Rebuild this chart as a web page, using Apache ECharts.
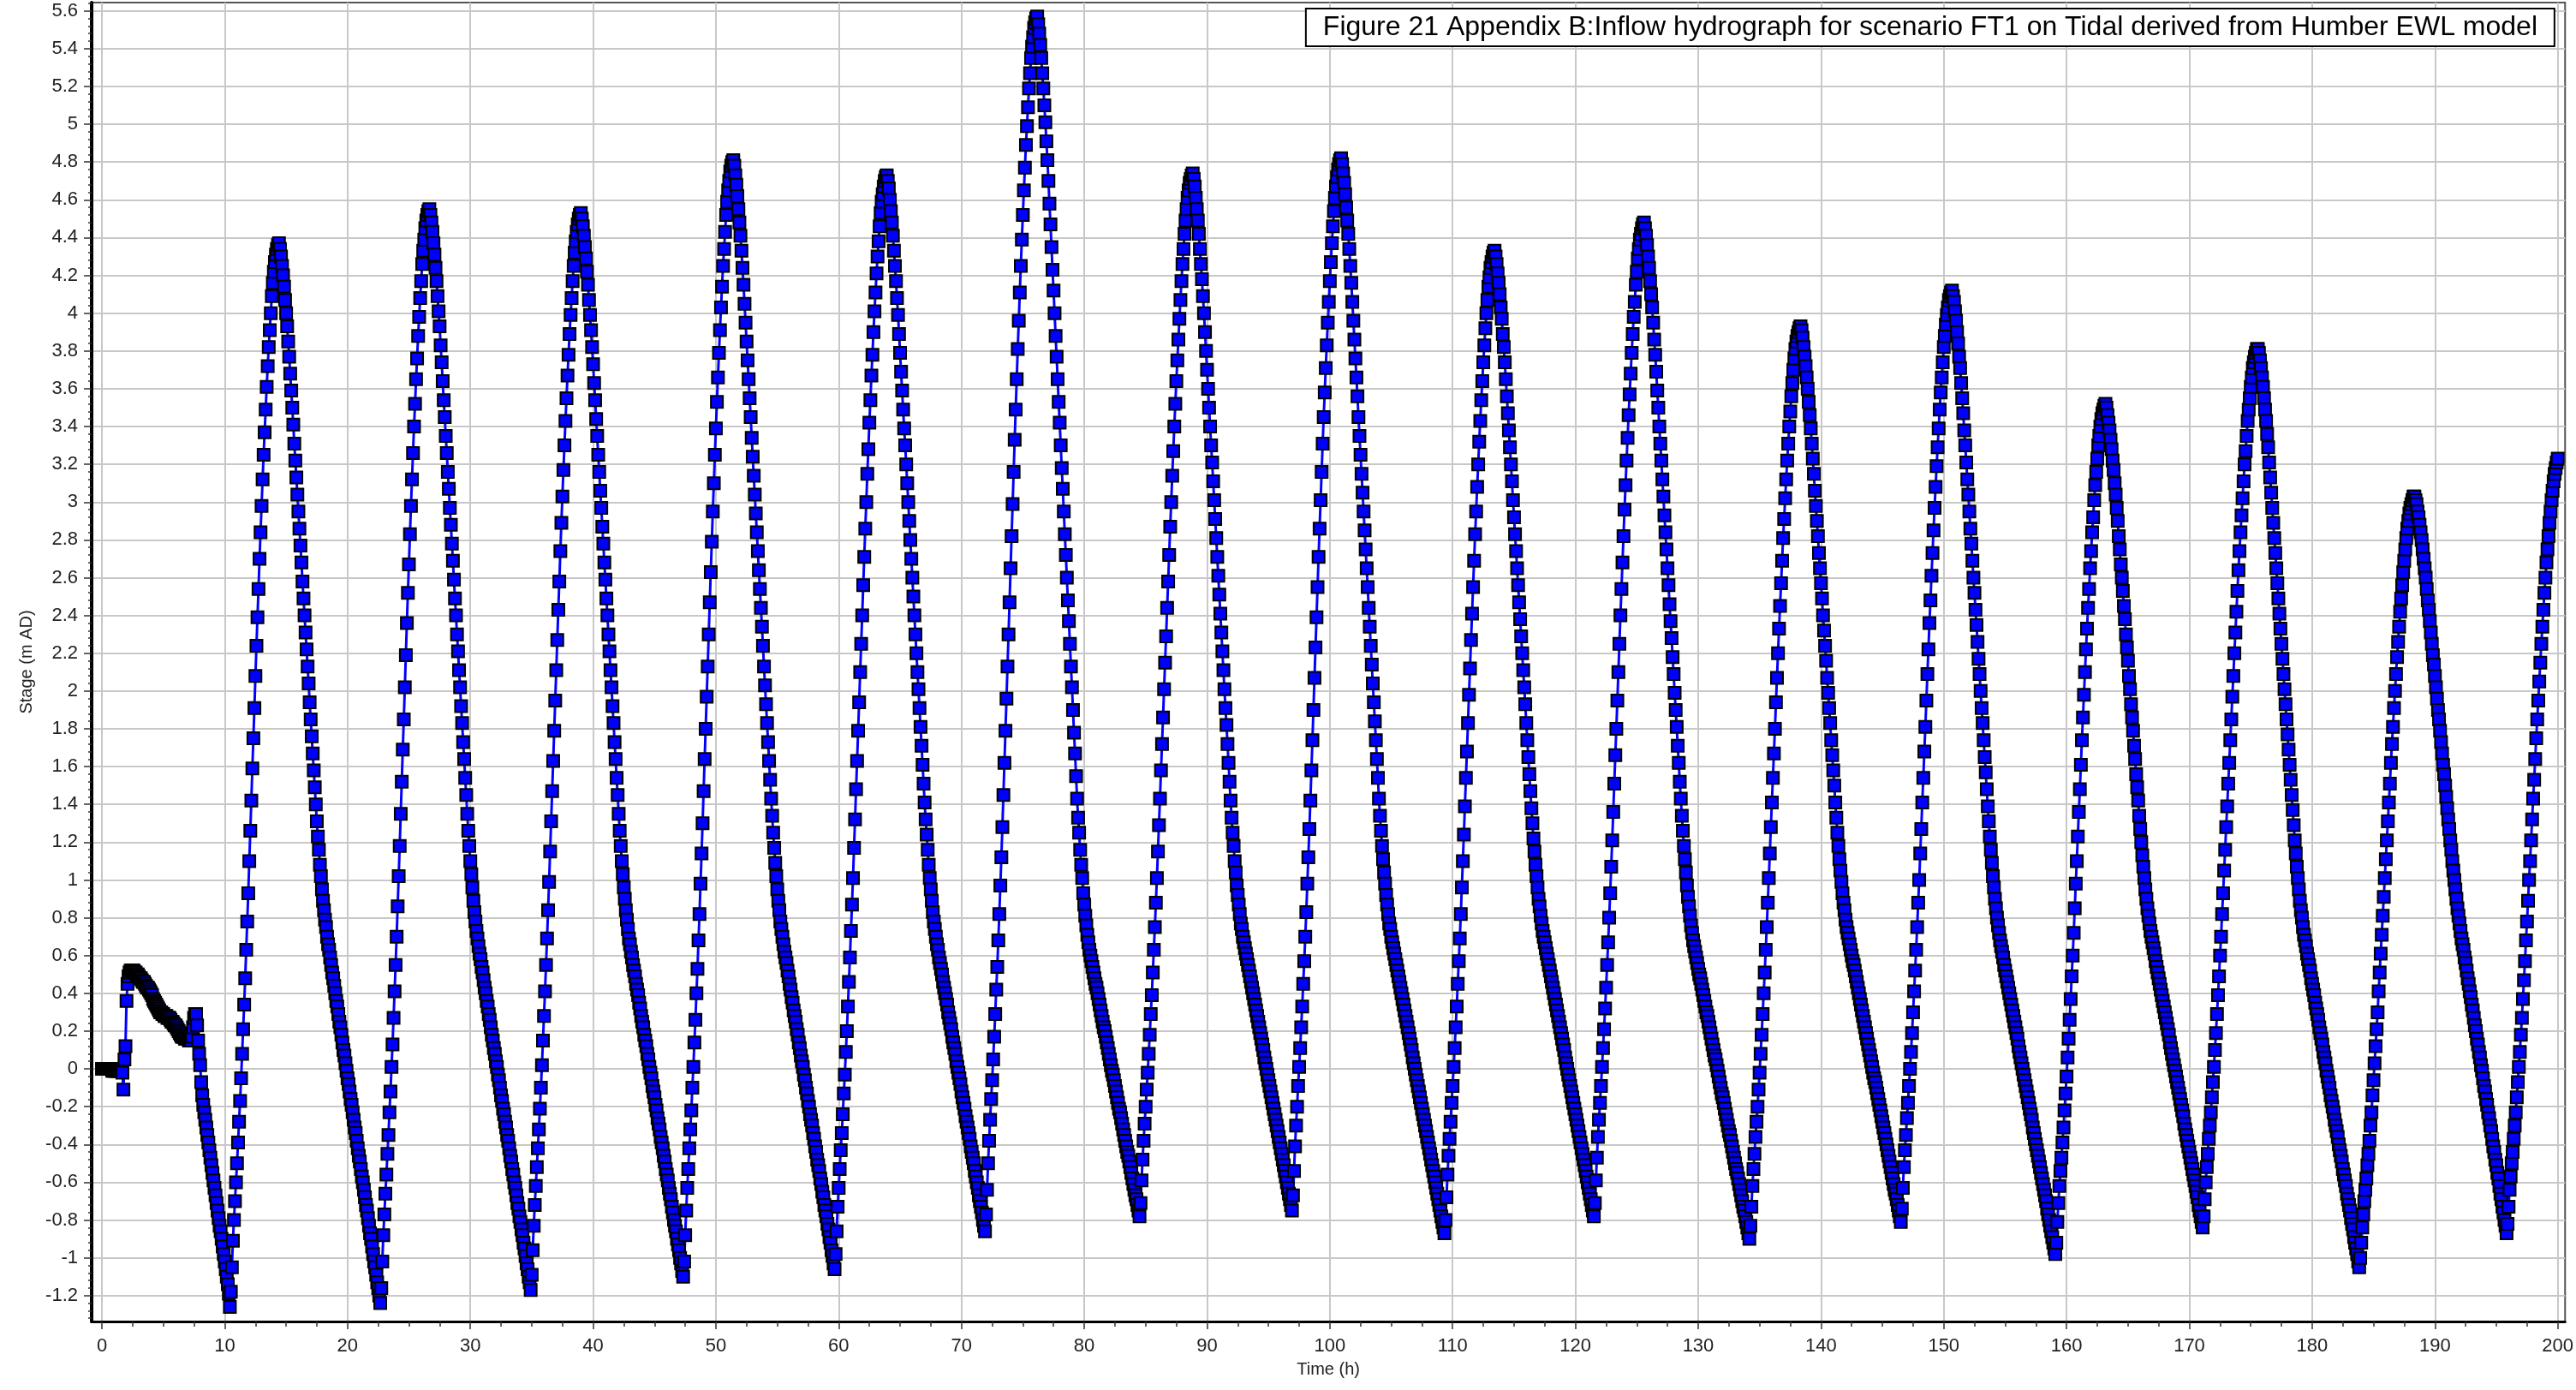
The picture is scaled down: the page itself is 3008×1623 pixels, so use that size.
<!DOCTYPE html>
<html><head><meta charset="utf-8">
<script src="https://cdn.jsdelivr.net/npm/echarts@6/dist/echarts.min.js"></script>
<style>html,body{margin:0;padding:0;background:#fff}#chart{width:3008px;height:1623px}</style>
</head><body><div id="chart"></div>
<script>
const chartTitle = 'Figure 21 Appendix B:Inflow hydrograph for scenario FT1 on Tidal derived from Humber EWL model';
const xAxisTitle = 'Time (h)';
const yAxisTitle = 'Stage (m AD)';
const seriesName = 'Tidal';
const startHour = 0;
const stepHours = 5 / 60;
const xTickValues = [0,10,20,30,40,50,60,70,80,90,100,110,120,130,140,150,160,170,180,190,200];
const yTickValues = [-1.2,-1,-0.8,-0.6,-0.4,-0.2,0,0.2,0.4,0.6,0.8,1,1.2,1.4,1.6,1.8,2,2.2,2.4,2.6,2.8,3,3.2,3.4,3.6,3.8,4,4.2,4.4,4.6,4.8,5,5.2,5.4,5.6];

// Stage (m AD) at 5-minute steps, split at each low water
const tide00 = [0,0,0,0,0,0,0,0,0,0,-0.01,-0.01,-0.01,-0.01,-0.01,-0.01,-0.01,-0.01,-0.01,-0.01,
-0.02,-0.11,0.05,0.12,0.36,0.45,0.49,0.51,0.52,0.52,0.52,0.52,0.51,0.51,0.50,0.50,0.49,0.48,0.48,0.47,
0.46,0.46,0.45,0.44,0.43,0.43,0.42,0.41,0.40,0.39,0.37,0.36,0.35,0.34,0.33,0.32,0.31,0.30,0.30,0.29,
0.29,0.28,0.28,0.28,0.27,0.27,0.27,0.26,0.25,0.25,0.24,0.23,0.23,0.22,0.21,0.20,0.19,0.18,0.17,0.17,
0.17,0.16,0.16,0.16,0.16,0.15,0.15,0.15,0.17,0.22,0.27,0.29,0.29,0.23,0.15,0.08,0.02,-0.07,-0.14,-0.19,
-0.23,-0.27,-0.31,-0.35,-0.39,-0.43,-0.47,-0.51,-0.55,-0.59,-0.63,-0.67,-0.71,-0.75,-0.79,-0.83,-0.86,-0.90,-0.94,-0.98,
-1.02,-1.06,-1.10,-1.14,-1.19,-1.26];
const tide01 = [-1.18,-1.05,-0.91,-0.80,-0.70,-0.60,-0.50,-0.39,-0.28,-0.17,-0.05,0.08,0.21,0.34,0.48,0.63,0.78,0.93,1.10,1.26,
1.42,1.59,1.75,1.91,2.08,2.24,2.39,2.54,2.70,2.84,2.98,3.12,3.25,3.37,3.49,3.61,3.72,3.82,3.91,4.00,
4.09,4.16,4.22,4.27,4.31,4.34,4.36,4.37,
4.34,4.30,4.25,4.20,4.14,4.07,4.00,3.93,3.85,3.77,3.68,
3.59,3.50,3.41,3.31,3.22,3.13,3.04,2.95,2.86,2.77,2.68,2.58,2.49,2.40,2.31,2.22,2.13,2.04,1.94,1.85,
1.76,1.67,1.58,1.49,1.40,1.31,1.23,1.16,1.08,1.02,0.95,0.89,
0.84,0.79,0.75,0.70,0.66,0.63,0.59,0.55,0.51,0.48,0.44,0.40,0.36,0.33,0.29,0.25,0.22,0.18,0.14,0.10,
0.07,0.03,-0.01,-0.05,-0.08,-0.12,-0.16,-0.19,-0.23,-0.27,-0.31,-0.34,-0.38,-0.42,-0.46,-0.49,-0.53,-0.57,-0.60,-0.64,
-0.68,-0.72,-0.75,-0.79,-0.83,-0.87,-0.90,-0.94,-0.98,-1.02,-1.05,-1.09,-1.13,-1.16,-1.20,-1.24];
const tide02 = [-1.16,-1.02,-0.88,-0.77,-0.66,-0.56,-0.45,-0.35,-0.23,-0.12,0.01,0.13,0.27,0.41,0.55,0.70,0.86,1.02,1.18,1.35,
1.52,1.69,1.85,2.02,2.19,2.36,2.52,2.67,2.83,2.98,3.12,3.26,3.40,3.52,3.65,3.76,3.88,3.98,4.08,4.17,
4.26,4.33,4.39,4.45,4.49,4.52,4.54,4.55,
4.52,4.48,4.43,4.37,4.31,4.24,4.17,4.09,4.01,3.93,3.83,
3.74,3.64,3.54,3.45,3.35,3.26,3.16,3.07,2.97,2.88,2.78,2.69,2.59,2.49,2.40,2.30,2.21,2.11,2.02,1.92,
1.83,1.73,1.64,1.54,1.45,1.35,1.26,1.18,1.10,1.03,0.96,0.89,0.83,
0.78,0.73,0.69,0.65,0.61,0.58,0.54,0.51,0.47,0.43,0.40,0.36,0.33,0.29,0.26,0.22,0.18,0.15,0.11,0.08,
0.04,0.01,-0.03,-0.06,-0.10,-0.14,-0.17,-0.21,-0.24,-0.28,-0.31,-0.35,-0.38,-0.42,-0.46,-0.49,-0.53,-0.56,-0.60,-0.63,
-0.67,-0.71,-0.74,-0.78,-0.81,-0.85,-0.88,-0.92,-0.95,-0.99,-1.03,-1.06,-1.10,-1.13,-1.17];
const tide03 = [-1.09,-0.96,-0.83,-0.72,-0.62,-0.52,-0.42,-0.32,-0.21,-0.10,0.02,0.15,0.28,0.41,0.55,0.69,0.84,0.99,1.15,1.31,
1.47,1.63,1.79,1.95,2.11,2.27,2.43,2.58,2.74,2.89,3.03,3.17,3.30,3.43,3.55,3.67,3.78,3.89,3.99,4.08,
4.17,4.25,4.32,4.38,4.43,4.47,4.50,4.52,4.53,
4.50,4.46,4.41,4.35,4.29,4.22,4.15,4.07,3.99,3.91,3.82,
3.73,3.63,3.54,3.44,3.35,3.25,3.16,3.06,2.97,2.87,2.78,2.68,2.59,2.49,2.40,2.30,2.21,2.11,2.02,1.92,
1.83,1.73,1.64,1.54,1.45,1.35,1.26,1.18,1.10,1.03,0.96,0.90,0.84,
0.79,0.74,0.69,0.66,0.62,0.59,0.55,0.52,0.49,0.45,0.42,0.39,0.35,0.32,0.28,0.25,0.22,0.18,0.15,0.12,
0.08,0.05,0.01,-0.02,-0.05,-0.09,-0.12,-0.15,-0.19,-0.22,-0.26,-0.29,-0.32,-0.36,-0.39,-0.42,-0.46,-0.49,-0.53,-0.56,
-0.59,-0.63,-0.66,-0.69,-0.73,-0.76,-0.80,-0.83,-0.86,-0.90,-0.93,-0.96,-1.00,-1.03,-1.07,-1.10];
const tide04 = [-1.02,-0.88,-0.75,-0.63,-0.53,-0.42,-0.32,-0.22,-0.10,0.01,0.14,0.26,0.40,0.53,0.68,0.82,0.98,1.14,1.30,1.47,
1.64,1.80,1.97,2.13,2.30,2.47,2.63,2.79,2.95,3.10,3.25,3.39,3.53,3.66,3.79,3.91,4.03,4.14,4.25,4.34,
4.43,4.52,4.59,4.65,4.70,4.75,4.78,4.80,4.81,
4.78,4.73,4.68,4.62,4.55,4.48,4.41,4.33,4.24,4.15,4.05,
3.95,3.85,3.75,3.65,3.55,3.45,3.34,3.24,3.14,3.04,2.94,2.84,2.74,2.64,2.54,2.44,2.34,2.24,2.13,2.03,
1.93,1.83,1.73,1.63,1.53,1.43,1.34,1.25,1.17,1.09,1.02,0.95,0.89,
0.84,0.78,0.74,0.70,0.66,0.62,0.59,0.56,0.52,0.49,0.45,0.42,0.38,0.35,0.31,0.28,0.25,0.21,0.18,0.14,
0.11,0.07,0.04,0.01,-0.03,-0.06,-0.10,-0.13,-0.17,-0.20,-0.24,-0.27,-0.30,-0.34,-0.37,-0.41,-0.44,-0.48,-0.51,-0.54,
-0.58,-0.61,-0.65,-0.68,-0.72,-0.75,-0.78,-0.82,-0.85,-0.89,-0.92,-0.96,-0.99,-1.03,-1.06];
const tide05 = [-0.98,-0.86,-0.73,-0.63,-0.53,-0.43,-0.34,-0.24,-0.13,-0.03,0.09,0.20,0.33,0.46,0.59,0.73,0.87,1.01,1.17,1.32,
1.48,1.63,1.79,1.94,2.10,2.25,2.40,2.56,2.71,2.86,3.00,3.15,3.28,3.42,3.54,3.67,3.78,3.90,4.01,4.11,
4.21,4.30,4.38,4.46,4.53,4.59,4.63,4.67,4.70,4.72,4.73,
4.70,4.66,4.60,4.54,4.48,4.41,4.33,4.25,4.17,4.08,3.99,
3.89,3.79,3.69,3.59,3.49,3.39,3.30,3.20,3.10,3.00,2.90,2.80,2.70,2.60,2.50,2.40,2.30,2.20,2.10,2.01,
1.91,1.81,1.71,1.61,1.51,1.41,1.32,1.24,1.16,1.08,1.01,0.95,0.89,
0.83,0.78,0.74,0.70,0.66,0.63,0.59,0.56,0.53,0.50,0.46,0.43,0.40,0.37,0.34,0.30,0.27,0.24,0.21,0.17,
0.14,0.11,0.08,0.04,0.01,-0.02,-0.05,-0.08,-0.12,-0.15,-0.18,-0.21,-0.25,-0.28,-0.31,-0.34,-0.37,-0.41,-0.44,-0.47,
-0.50,-0.54,-0.57,-0.60,-0.63,-0.67,-0.70,-0.73,-0.76,-0.80,-0.83,-0.86];
const tide06 = [-0.77,-0.64,-0.50,-0.38,-0.27,-0.16,-0.06,0.05,0.17,0.29,0.42,0.54,0.68,0.82,0.97,1.12,1.28,1.45,1.62,1.79,
1.96,2.13,2.30,2.47,2.65,2.82,2.99,3.16,3.33,3.49,3.65,3.81,3.96,4.11,4.25,4.39,4.52,4.65,4.77,4.89,
4.99,5.09,5.19,5.27,5.35,5.41,5.46,5.51,5.54,5.56,5.57,
5.53,5.48,5.42,5.35,5.27,5.19,5.10,5.01,4.91,4.81,4.70,
4.58,4.47,4.35,4.23,4.12,4.00,3.88,3.77,3.65,3.53,3.42,3.30,3.18,3.07,2.95,2.83,2.72,2.60,2.48,2.37,
2.25,2.13,2.02,1.90,1.78,1.67,1.55,1.43,1.33,1.25,1.16,1.08,1.01,0.93,0.87,
0.81,0.76,0.71,0.67,0.63,0.60,0.57,0.54,0.51,0.48,0.45,0.43,0.40,0.37,0.34,0.31,0.28,0.25,0.22,0.20,
0.17,0.14,0.11,0.08,0.05,0.02,-0.01,-0.03,-0.06,-0.09,-0.12,-0.15,-0.18,-0.21,-0.23,-0.26,-0.29,-0.32,-0.35,-0.38,
-0.41,-0.44,-0.46,-0.49,-0.52,-0.55,-0.58,-0.61,-0.64,-0.67,-0.69,-0.72,-0.75,-0.78];
const tide07 = [-0.71,-0.59,-0.48,-0.38,-0.29,-0.20,-0.11,-0.02,0.08,0.18,0.29,0.39,0.51,0.63,0.75,0.88,1.01,1.15,1.29,1.43,
1.58,1.72,1.86,2.01,2.15,2.29,2.44,2.58,2.72,2.87,3.00,3.14,3.27,3.40,3.52,3.64,3.75,3.86,3.97,4.07,
4.17,4.26,4.34,4.42,4.49,4.55,4.61,4.65,4.69,4.71,4.73,4.74,
4.71,4.67,4.61,4.55,4.49,4.42,4.34,4.26,4.18,4.09,4.00,
3.90,3.80,3.70,3.60,3.50,3.40,3.30,3.21,3.11,3.01,2.91,2.81,2.71,2.61,2.51,2.41,2.31,2.21,2.11,2.01,
1.91,1.82,1.72,1.62,1.52,1.42,1.33,1.25,1.18,1.10,1.04,0.97,0.92,
0.87,0.82,0.77,0.74,0.70,0.67,0.64,0.61,0.58,0.55,0.52,0.49,0.46,0.43,0.40,0.37,0.34,0.31,0.28,0.25,
0.22,0.19,0.16,0.13,0.10,0.06,0.03,0.00,-0.03,-0.06,-0.09,-0.12,-0.15,-0.18,-0.21,-0.24,-0.27,-0.30,-0.33,-0.36,
-0.39,-0.42,-0.45,-0.48,-0.51,-0.54,-0.57,-0.60,-0.63,-0.66,-0.69,-0.72,-0.75];
const tide08 = [-0.67,-0.54,-0.41,-0.30,-0.20,-0.09,0.01,0.11,0.22,0.33,0.45,0.57,0.70,0.83,0.98,1.12,1.27,1.42,1.58,1.74,
1.90,2.07,2.23,2.39,2.55,2.71,2.86,3.01,3.16,3.31,3.45,3.58,3.71,3.83,3.95,4.06,4.17,4.27,4.37,4.46,
4.54,4.61,4.67,4.72,4.76,4.79,4.81,4.82,
4.79,4.74,4.69,4.63,4.56,4.49,4.42,4.34,4.25,4.16,4.06,
3.96,3.86,3.76,3.66,3.56,3.45,3.35,3.25,3.15,3.05,2.95,2.85,2.75,2.65,2.55,2.44,2.34,2.24,2.14,2.04,
1.94,1.84,1.74,1.64,1.54,1.43,1.34,1.26,1.18,1.11,1.04,0.98,0.92,
0.87,0.82,0.77,0.74,0.70,0.67,0.64,0.61,0.58,0.55,0.52,0.49,0.46,0.43,0.40,0.37,0.34,0.31,0.28,0.25,
0.22,0.19,0.16,0.13,0.10,0.06,0.03,0.00,-0.03,-0.06,-0.09,-0.12,-0.15,-0.18,-0.21,-0.24,-0.27,-0.30,-0.33,-0.36,
-0.39,-0.42,-0.45,-0.48,-0.51,-0.54,-0.57,-0.60,-0.63,-0.66,-0.69,-0.72,-0.75,-0.78,-0.81,-0.84,-0.87];
const tide09 = [-0.80,-0.68,-0.56,-0.46,-0.37,-0.28,-0.18,-0.09,0.01,0.11,0.22,0.33,0.45,0.57,0.69,0.82,0.96,1.10,1.24,1.39,
1.54,1.68,1.83,1.98,2.12,2.27,2.41,2.55,2.69,2.83,2.95,3.08,3.20,3.32,3.43,3.54,3.64,3.74,3.83,3.92,
4.00,4.07,4.14,4.19,4.24,4.27,4.30,4.32,4.33,
4.30,4.26,4.21,4.16,4.10,4.03,3.97,3.89,3.82,3.74,3.65,
3.56,3.47,3.38,3.29,3.20,3.11,3.01,2.92,2.83,2.74,2.65,2.56,2.47,2.38,2.29,2.20,2.11,2.02,1.93,1.83,
1.74,1.65,1.56,1.47,1.38,1.30,1.22,1.15,1.08,1.02,0.96,0.90,
0.86,0.81,0.77,0.73,0.70,0.67,0.64,0.61,0.58,0.55,0.52,0.49,0.46,0.43,0.40,0.37,0.34,0.31,0.28,0.25,
0.22,0.19,0.16,0.13,0.10,0.06,0.03,0.00,-0.03,-0.06,-0.09,-0.12,-0.15,-0.18,-0.21,-0.24,-0.27,-0.30,-0.33,-0.36,
-0.39,-0.42,-0.45,-0.48,-0.51,-0.54,-0.57,-0.60,-0.63,-0.66,-0.69,-0.72,-0.75,-0.78];
const tide10 = [-0.71,-0.59,-0.47,-0.36,-0.27,-0.18,-0.09,0.01,0.11,0.21,0.32,0.43,0.55,0.67,0.80,0.93,1.07,1.21,1.36,1.51,
1.66,1.80,1.95,2.10,2.25,2.40,2.54,2.68,2.82,2.96,3.09,3.22,3.34,3.46,3.57,3.68,3.79,3.89,3.98,4.06,
4.15,4.22,4.29,4.34,4.39,4.42,4.45,4.47,4.48,
4.45,4.41,4.36,4.30,4.24,4.17,4.10,4.03,3.95,3.86,3.78,
3.69,3.59,3.50,3.40,3.31,3.22,3.12,3.03,2.93,2.84,2.75,2.65,2.56,2.46,2.37,2.28,2.18,2.09,1.99,1.90,
1.81,1.71,1.62,1.52,1.43,1.34,1.26,1.18,1.11,1.04,0.97,0.91,0.86,
0.81,0.76,0.72,0.68,0.65,0.62,0.59,0.56,0.53,0.50,0.48,0.45,0.42,0.39,0.36,0.33,0.30,0.28,0.25,0.22,
0.19,0.16,0.13,0.10,0.07,0.05,0.02,-0.01,-0.04,-0.07,-0.10,-0.13,-0.15,-0.18,-0.21,-0.24,-0.27,-0.30,-0.33,-0.35,
-0.38,-0.41,-0.44,-0.47,-0.50,-0.53,-0.55,-0.58,-0.61,-0.64,-0.67,-0.70,-0.73,-0.75,-0.78,-0.81,-0.84,-0.87,-0.90];
const tide11 = [-0.83,-0.73,-0.62,-0.53,-0.45,-0.36,-0.28,-0.20,-0.11,-0.02,0.08,0.18,0.29,0.40,0.51,0.63,0.75,0.88,1.01,1.14,
1.28,1.41,1.54,1.67,1.80,1.94,2.07,2.20,2.33,2.45,2.57,2.69,2.81,2.91,3.02,3.12,3.22,3.31,3.40,3.48,
3.56,3.63,3.70,3.76,3.81,3.85,3.88,3.90,3.92,3.93,
3.91,3.87,3.82,3.77,3.72,3.66,3.60,3.53,3.46,3.39,3.31,
3.23,3.15,3.06,2.98,2.90,2.82,2.73,2.65,2.57,2.49,2.40,2.32,2.24,2.16,2.07,1.99,1.91,1.83,1.74,1.66,
1.58,1.50,1.41,1.33,1.25,1.18,1.11,1.05,0.99,0.93,0.88,
0.84,0.79,0.75,0.72,0.69,0.66,0.63,0.60,0.57,0.55,0.52,0.49,0.46,0.43,0.40,0.37,0.34,0.31,0.28,0.25,
0.22,0.19,0.16,0.13,0.10,0.07,0.04,0.01,-0.02,-0.05,-0.07,-0.10,-0.13,-0.16,-0.19,-0.22,-0.25,-0.28,-0.31,-0.34,
-0.37,-0.40,-0.43,-0.46,-0.49,-0.52,-0.55,-0.58,-0.61,-0.64,-0.66,-0.69,-0.72,-0.75,-0.78,-0.81];
const tide12 = [-0.74,-0.63,-0.52,-0.43,-0.35,-0.26,-0.18,-0.09,0.00,0.09,0.19,0.30,0.41,0.52,0.63,0.75,0.88,1.00,1.14,1.27,
1.41,1.54,1.68,1.81,1.95,2.09,2.22,2.36,2.48,2.61,2.73,2.85,2.97,3.08,3.19,3.29,3.39,3.49,3.58,3.66,
3.74,3.82,3.88,3.94,3.99,4.03,4.07,4.09,4.11,4.12,
4.09,4.06,4.01,3.96,3.90,3.84,3.77,3.71,3.63,3.55,3.47,
3.38,3.30,3.21,3.12,3.04,2.95,2.86,2.78,2.69,2.60,2.52,2.43,2.35,2.26,2.17,2.09,2.00,1.91,1.83,1.74,
1.65,1.57,1.48,1.39,1.31,1.23,1.16,1.09,1.02,0.96,0.90,0.85,
0.80,0.76,0.72,0.68,0.65,0.62,0.59,0.55,0.52,0.49,0.46,0.43,0.40,0.37,0.34,0.31,0.28,0.25,0.22,0.19,
0.16,0.12,0.09,0.06,0.03,0.00,-0.03,-0.06,-0.09,-0.12,-0.15,-0.18,-0.21,-0.24,-0.27,-0.31,-0.34,-0.37,-0.40,-0.43,
-0.46,-0.49,-0.52,-0.55,-0.58,-0.61,-0.64,-0.67,-0.70,-0.74,-0.77,-0.80,-0.83,-0.86,-0.89,-0.92,-0.95,-0.98];
const tide13 = [-0.92,-0.81,-0.71,-0.62,-0.54,-0.47,-0.39,-0.31,-0.22,-0.13,-0.04,0.06,0.16,0.26,0.37,0.49,0.60,0.72,0.85,0.98,
1.10,1.23,1.36,1.48,1.61,1.74,1.86,1.98,2.10,2.22,2.33,2.44,2.54,2.65,2.74,2.84,2.92,3.01,3.09,3.16,
3.23,3.30,3.35,3.40,3.44,3.47,3.49,3.51,3.52,
3.50,3.46,3.42,3.38,3.33,3.28,3.22,3.17,3.10,3.04,2.97,
2.90,2.82,2.75,2.67,2.60,2.53,2.45,2.38,2.30,2.23,2.16,2.08,2.01,1.93,1.86,1.79,1.71,1.64,1.56,1.49,
1.42,1.34,1.27,1.20,1.13,1.07,1.01,0.95,0.90,0.85,
0.81,0.77,0.73,0.70,0.67,0.64,0.61,0.57,0.54,0.51,0.48,0.45,0.42,0.39,0.36,0.33,0.30,0.27,0.24,0.21,
0.18,0.14,0.11,0.08,0.05,0.02,-0.01,-0.04,-0.07,-0.10,-0.13,-0.16,-0.19,-0.22,-0.25,-0.29,-0.32,-0.35,-0.38,-0.41,
-0.44,-0.47,-0.50,-0.53,-0.56,-0.59,-0.62,-0.65,-0.68,-0.72,-0.75,-0.78,-0.81,-0.84];
const tide14 = [-0.78,-0.69,-0.60,-0.52,-0.45,-0.37,-0.30,-0.23,-0.15,-0.07,0.01,0.10,0.19,0.29,0.39,0.49,0.60,0.70,0.82,0.93,
1.05,1.16,1.28,1.39,1.51,1.62,1.74,1.85,1.97,2.08,2.20,2.31,2.42,2.53,2.64,2.74,2.84,2.93,3.02,3.11,
3.20,3.27,3.35,3.43,3.49,3.55,3.61,3.66,3.71,3.74,3.77,3.79,3.81,3.81,
3.79,3.75,3.71,3.66,3.61,3.55,3.49,3.43,3.36,3.29,3.21,
3.13,3.05,2.97,2.89,2.81,2.73,2.65,2.57,2.49,2.41,2.33,2.25,2.17,2.09,2.01,1.93,1.85,1.77,1.69,1.61,
1.53,1.45,1.37,1.29,1.21,1.14,1.07,1.01,0.95,0.89,0.84,
0.80,0.75,0.71,0.68,0.65,0.61,0.58,0.55,0.52,0.48,0.45,0.42,0.39,0.35,0.32,0.29,0.26,0.22,0.19,0.16,
0.13,0.09,0.06,0.03,-0.01,-0.04,-0.07,-0.10,-0.14,-0.17,-0.20,-0.23,-0.27,-0.30,-0.33,-0.36,-0.40,-0.43,-0.46,-0.49,
-0.53,-0.56,-0.59,-0.62,-0.66,-0.69,-0.72,-0.75,-0.79,-0.82,-0.85,-0.89,-0.92,-0.95,-0.98,-1.02,-1.05];
const tide15 = [-1.00,-0.92,-0.84,-0.77,-0.70,-0.64,-0.58,-0.51,-0.45,-0.38,-0.30,-0.23,-0.14,-0.06,0.03,0.12,0.21,0.30,0.41,0.51,
0.61,0.71,0.81,0.91,1.01,1.11,1.21,1.31,1.41,1.51,1.62,1.72,1.81,1.91,2.00,2.09,2.18,2.26,2.34,2.42,
2.49,2.56,2.63,2.69,2.75,2.81,2.86,2.90,2.94,2.97,2.99,3.01,3.03,3.03,
3.01,2.99,2.95,2.92,2.88,2.84,2.80,2.75,2.70,2.65,2.60,
2.54,2.48,2.43,2.37,2.31,2.25,2.19,2.14,2.08,2.02,1.96,1.90,1.85,1.79,1.73,1.67,1.61,1.56,1.50,1.44,
1.38,1.32,1.27,1.21,1.16,1.10,1.05,1.00,0.95,0.90,0.85,
0.81,0.77,0.73,0.69,0.66,0.63,0.59,0.56,0.52,0.48,0.45,0.41,0.38,0.34,0.31,0.27,0.23,0.20,0.16,0.13,
0.09,0.06,0.02,-0.01,-0.05,-0.09,-0.12,-0.16,-0.19,-0.23,-0.26,-0.30,-0.33,-0.37,-0.41,-0.44,-0.48,-0.51,-0.55,-0.58,
-0.62,-0.66,-0.69,-0.73,-0.76,-0.80,-0.83,-0.87];
const tide16 = [-0.82,-0.73,-0.64,-0.57,-0.50,-0.44,-0.37,-0.30,-0.23,-0.15,-0.07,0.01,0.09,0.18,0.27,0.37,0.47,0.57,0.68,0.78,
0.89,1.00,1.10,1.21,1.32,1.43,1.53,1.64,1.75,1.85,1.95,2.05,2.15,2.25,2.34,2.43,2.52,2.60,2.68,2.75,
2.82,2.89,2.95,3.01,3.06,3.11,3.15,3.18,3.21,3.23];

const stageParts = [tide00,tide01,tide02,tide03,tide04,tide05,tide06,tide07,tide08,tide09,tide10,tide11,tide12,tide13,tide14,tide15,tide16];
const stage = [].concat(...stageParts);
const seriesData = stage.map((v, i) => [startHour + i * stepHours, v]);

const xMinorTicks = [];
for (let k = 0; k <= 80; k++) xMinorTicks.push(k * 2.5);
const yMinorTicks = [];
for (let k = -33; k <= 141; k++) yMinorTicks.push(+(k * 0.04).toFixed(2));

const FONT = '"Liberation Sans", Arial, Helvetica, sans-serif';
const X_MIN = -0.84, X_MAX = 200.6, Y_MIN = -1.337, Y_MAX = 5.644;

const chart = echarts.init(document.getElementById('chart'), null, {renderer: 'canvas'});
chart.setOption({
  animation: false,
  backgroundColor: '#ffffff',
  title: {
    text: chartTitle, right: 25, top: 10, padding: [6, 20],
    borderColor: '#000', borderWidth: 2, backgroundColor: '#fff',
    textStyle: {fontFamily: FONT, fontSize: 32, fontWeight: 'normal', color: '#000'}, z: 20
  },
  grid: {left: 107, right: 10, top: 3, bottom: 80, show: true, borderColor: '#555', borderWidth: 2, backgroundColor: 'transparent'},
  xAxis: [{
    type: 'value', min: X_MIN, max: X_MAX, position: 'bottom',
    name: xAxisTitle, nameLocation: 'middle', nameGap: 46,
    nameTextStyle: {fontFamily: FONT, fontSize: 20, color: '#222'},
    axisLine: {show: true, onZero: false, lineStyle: {color: '#000', width: 3}},
    axisTick: {show: true, customValues: xTickValues, length: 9, lineStyle: {color: '#333', width: 1.5}},
    axisLabel: {customValues: xTickValues, fontFamily: FONT, fontSize: 22, color: '#222', margin: 18},
    splitLine: {show: true, lineStyle: {color: '#c8c8c8', width: 2}}
  }, {
    type: 'value', min: X_MIN, max: X_MAX, position: 'bottom',
    axisLine: {show: false, onZero: false},
    axisTick: {show: true, customValues: xMinorTicks, length: 6, lineStyle: {color: '#333', width: 1.5}},
    axisLabel: {show: false}, splitLine: {show: false}
  }],
  yAxis: [{
    type: 'value', min: Y_MIN, max: Y_MAX, position: 'left',
    name: yAxisTitle, nameLocation: 'middle', nameGap: 66,
    nameTextStyle: {fontFamily: FONT, fontSize: 20, color: '#222'},
    axisLine: {show: true, onZero: false, lineStyle: {color: '#000', width: 4}},
    axisTick: {show: true, customValues: yTickValues, length: 9, lineStyle: {color: '#333', width: 1.5}},
    axisLabel: {customValues: yTickValues, fontFamily: FONT, fontSize: 22, color: '#222', margin: 16,
      formatter: v => String(+(+v).toFixed(2))},
    splitLine: {show: true, lineStyle: {color: '#c8c8c8', width: 2}}
  }, {
    type: 'value', min: Y_MIN, max: Y_MAX, position: 'left',
    axisLine: {show: false, onZero: false},
    axisTick: {show: true, customValues: yMinorTicks, length: 4, lineStyle: {color: '#333', width: 1.5}},
    axisLabel: {show: false}, splitLine: {show: false}
  }],
  series: [{
    name: seriesName, type: 'line', xAxisIndex: 0, yAxisIndex: 0,
    data: seriesData, symbol: 'rect', symbolSize: 14,
    showSymbol: true, showAllSymbol: true,
    lineStyle: {color: '#0000ff', width: 3},
    itemStyle: {color: '#0000ff', borderColor: '#000', borderWidth: 2},
    emphasis: {disabled: true}, z: 3
  }]
});
</script>
</body></html>
